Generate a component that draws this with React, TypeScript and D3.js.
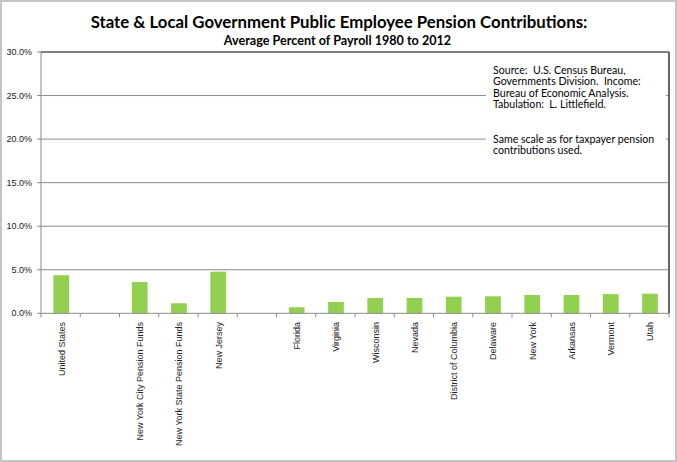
import React from "react";
import * as d3 from "d3";

const categories = [
  "United States", "", "New York City Pension Funds", "New York State Pension Funds", "New Jersey", "",
  "Florida", "Virginia", "Wisconsin", "Nevada", "District of Columbia", "Delaware", "New York",
  "Arkansas", "Vermont", "Utah",
];
const values: (number | null)[] = [
  4.37, null, 3.6, 1.15, 4.78, null,
  0.69, 1.3, 1.76, 1.76, 1.91, 1.95, 2.1, 2.1, 2.2, 2.25,
];
const yTicks = [0, 5, 10, 15, 20, 25, 30];
const title = "State & Local Government Public Employee Pension Contributions:";
const subtitle = "Average Percent of Payroll 1980 to 2012";
const noteLines = [
  "Source:  U.S. Census Bureau,",
  "Governments Division.  Income:",
  "Bureau of Economic Analysis.",
  "Tabulation:  L. Littlefield.",
  "",
  "",
  "Same scale as for taxpayer pension",
  "contributions used.",
];

const W = 677, H = 462;
const L = 41, R = 669, T = 52, B = 313.3;

export default function App() {
  const x = d3.scaleBand<number>().domain(categories.map((_, i) => i)).range([L, R]).padding(0);
  const y = d3.scaleLinear().domain([0, 30]).range([B, T]);
  const bw = x.bandwidth() * 0.4;
  const axisFont = "'Liberation Sans', Arial, sans-serif";
  const noteFont = "Lato, 'Open Sans', sans-serif";
  return (
    <svg width={W} height={H} style={{ position: "absolute", left: 0, top: 0, background: "#fff" }}>
      <rect x={1} y={1} width={675} height={460} fill="#fff" stroke="#c4c4c4" strokeWidth={2} />
      <text x={339} y={28} textAnchor="middle" fontFamily={noteFont} fontWeight="bold" fontSize={16.8} fill="#000">{title}</text>
      <text x={337.5} y={44.5} textAnchor="middle" fontFamily={noteFont} fontWeight="bold" fontSize={12.6} fill="#000">{subtitle}</text>
      {yTicks.map((t) => (
        <g key={t}>
          {t > 0 && t < 30 && <line x1={L} x2={R} y1={y(t)} y2={y(t)} stroke="#8a8a8a" strokeWidth={1} />}
          <line x1={L - 4} x2={L} y1={y(t)} y2={y(t)} stroke="#8a8a8a" />
          <text x={32} y={y(t) + 3} textAnchor="end" fontFamily={axisFont} fontSize={9} fill="#222">{t.toFixed(1) + "%"}</text>
        </g>
      ))}
      <rect x={486} y={57} width={180} height={104} fill="#fff" />
      {noteLines.map((s, i) => (
        <text key={i} x={493} y={73.8 + i * 11.5} fontFamily={noteFont} fontSize={10.6} fill="#000" style={{ whiteSpace: "pre" }}>{s}</text>
      ))}
      {values.map((v, i) =>
        v == null ? null : (
          <rect key={i} x={(x(i) as number) + x.bandwidth() / 2 - bw / 2 + 0.6} y={y(v)} width={bw} height={y(0) - y(v)} fill="#92D050" />
        )
      )}
      {categories.map((_, i) => (
        <line key={"t" + i} x1={x(i) as number} x2={x(i) as number} y1={B} y2={B + 4} stroke="#8a8a8a" />
      ))}
      <line x1={R} x2={R} y1={B} y2={B + 4} stroke="#8a8a8a" />
      <line x1={L} x2={L} y1={T} y2={B} stroke="#8a8a8a" />
      <line x1={L} x2={R} y1={B} y2={B} stroke="#8a8a8a" />
      <line x1={L} x2={R} y1={T} y2={T} stroke="#555" strokeWidth={1.5} />
      <line x1={R} x2={R} y1={T} y2={B} stroke="#666" strokeWidth={2} />
      {categories.map((c, i) => {
        const cx = (x(i) as number) + x.bandwidth() / 2 + 1;
        return (
          <text key={"l" + i} transform={`translate(${cx + 3},${322}) rotate(-90)`} textAnchor="end" fontFamily={axisFont} fontSize={9} fill="#222">{c}</text>
        );
      })}
    </svg>
  );
}
